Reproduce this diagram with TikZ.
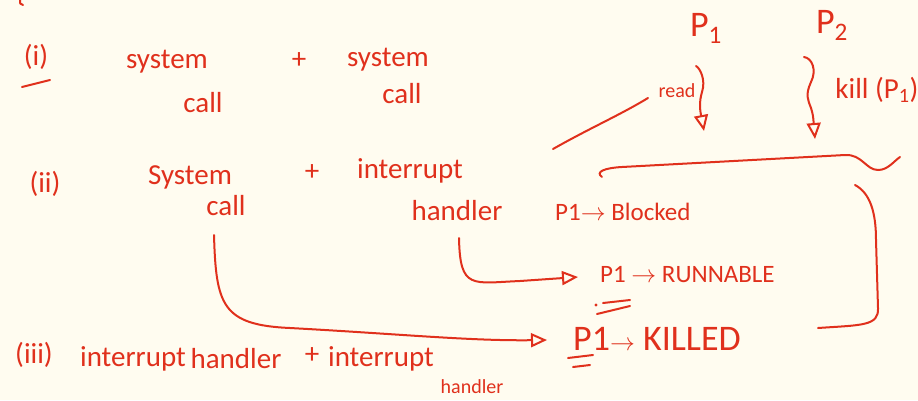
\documentclass[tikz,border=0pt]{standalone}
\usepackage{fontspec}
\setmainfont{Carlito}
\usetikzlibrary{arrows.meta}
\definecolor{ink}{HTML}{E0301C}
\definecolor{paper}{HTML}{FFFCF0}
\begin{document}
\begin{tikzpicture}[x=1pt,y=-1pt,
  stroke/.style={draw=ink, line width=2pt, line cap=round, line join=round},
  txt/.style={text=ink, inner sep=0pt, font=\fontsize{29}{31}\selectfont},
  big/.style={text=ink, inner sep=0pt, font=\fontsize{36}{38}\selectfont},
  med/.style={text=ink, inner sep=0pt, font=\fontsize{25}{27}\selectfont},
  sm/.style={text=ink, inner sep=0pt, font=\fontsize{20}{22}\selectfont},
  tip/.style={-{Triangle[open,length=16pt,width=14pt,line width=2pt]}}
]
\fill[paper] (0,0) rectangle (918,400);
\useasboundingbox (0,0) rectangle (918,400);

% top-left fragment
\draw[stroke] (20,0) .. controls (20,4) .. (23,5);

% row (i)
\node[txt, anchor=center] (ni) at (36,57) {(i)};
\draw[stroke] (22,87) -- (50,80);
\node[txt, anchor=base] (sys1) at (167,68) {system};
\node[txt, anchor=base] (call1) at (203,112) {call};
\node[txt, anchor=center] (plus1) at (299,61) {+};
\node[txt, anchor=base] (sys2) at (388,66) {system};
\node[txt, anchor=base] (call2) at (402,103) {call};

% row (ii)
\node[txt, anchor=center] (nii) at (45,184) {(ii)};
\node[txt, anchor=base] (sys3) at (190,184) {System};
\node[txt, anchor=base] (call3) at (226,215) {call};
\node[txt, anchor=center] (plus2) at (312,173) {+};
\node[txt, anchor=base] (int1) at (410,178) {interrupt};
\node[txt, anchor=base] (hand1) at (457,220) {handler};

% row (iii)
\node[txt, anchor=center] (niii) at (34,355) {(iii)};
\node[txt, anchor=base] (int2) at (133,366) {interrupt};
\node[txt, anchor=base] (hand2) at (236,368) {handler};
\node[txt, anchor=center] (plus3) at (312,356) {+};
\node[txt, anchor=base] (int3) at (381,366) {interrupt};
\node[sm, anchor=base] (hand3) at (472,393) {handler};

% process states
\node[med, anchor=base west] (blocked) at (555,220) {P1$\rightarrow$ Blocked};
\node[med, anchor=base west] (runnable) at (600,282) {P1 $\rightarrow$ RUNNABLE};
\node[big, anchor=base west] (killed) at (573,350) {P1{\fontsize{24}{24}\selectfont$\rightarrow$} KILLED};

% underlines
\fill[ink] (596,305) circle (1.6pt);
\draw[stroke] (603,303) -- (630,300);
\draw[stroke] (597,314) -- (630,306);
\draw[stroke] (568,358) -- (593,355);
\draw[stroke] (573,367) -- (590,365);

% P1 / P2
\node[big, anchor=base] (p1) at (706,36) {P\textsubscript{1}};
\node[big, anchor=base] (p2) at (832,33) {P\textsubscript{2}};
\node[sm, anchor=base] (read) at (677,97) {read};
\node[txt, anchor=base] (kill) at (877,98) {kill (P\textsubscript{1})};

\coordinate (r1) at (696,66);
\coordinate (r2) at (704,131);
\draw[stroke, tip] (r1) .. controls (700,68) and (706,80) .. (702,92)
  .. controls (699,102) and (700,110) .. (r2);
\coordinate (k1) at (804,57);
\coordinate (k2) at (815,139);
\draw[stroke, tip] (k1) .. controls (812,58) and (817,70) .. (811,82)
  .. controls (805,95) and (808,100) .. (811,108) .. controls (813,115) .. (k2);

% slanted line
\coordinate (l1) at (648,98);
\coordinate (l2) at (553,149);
\draw[stroke] (l1) .. controls (620,115) and (590,128) .. (l2);

% top brace-like curve
\coordinate (b1) at (602,177);
\coordinate (b2) at (900,157);
\draw[stroke] (b1) .. controls (595,172) and (604,168) .. (622,167)
  -- (845,155) .. controls (862,154) and (866,170) .. (878,170)
  .. controls (888,170) and (894,161) .. (b2);

% right bracket
\coordinate (c1) at (855,185);
\coordinate (c2) at (818,328);
\draw[stroke] (c1) .. controls (870,193) and (876,212) .. (876,240)
  -- (878,308) .. controls (879,326) and (862,325) .. (c2);

% arrow from handler to RUNNABLE
\coordinate (hS) at (459,238);
\coordinate (hE) at (578,277);
\draw[stroke, tip] (hS) .. controls (460,290) and (472,283) .. (520,281) -- (hE);

% arrow from call to KILLED
\coordinate (aS) at (214,235);
\coordinate (aE) at (547,340);
\draw[stroke, tip] (aS) .. controls (216,305) and (222,325) .. (290,328)
  .. controls (400,334) and (470,341) .. (aE);
\end{tikzpicture}
\end{document}
